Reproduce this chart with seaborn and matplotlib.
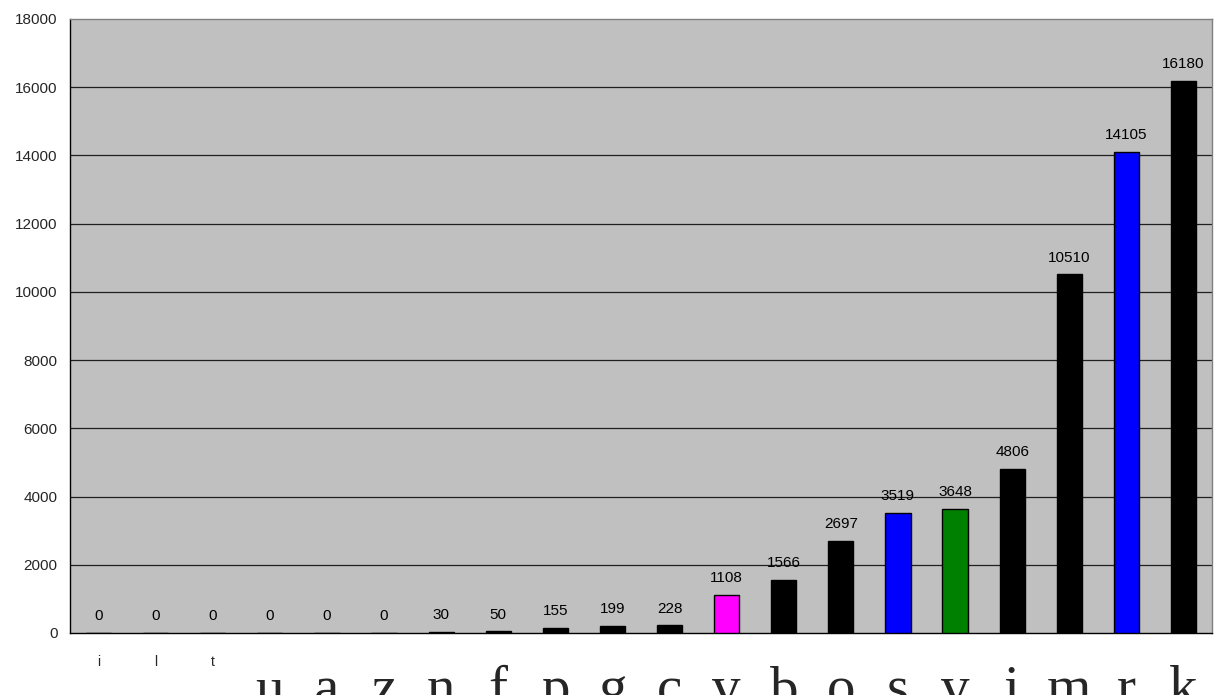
import matplotlib
matplotlib.use("Agg")
import matplotlib.pyplot as plt
import seaborn as sns
import pandas as pd

labels = ["i", "l", "t", "u", "a", "z", "n", "f", "p", "g", "c", "v", "b", "o", "s", "v", "i", "m", "r", "k"]
values = [0, 0, 0, 0, 0, 0, 30, 50, 155, 199, 228, 1108, 1566, 2697, 3519, 3648, 4806, 10510, 14105, 16180]
colors = ["#000000"] * 11 + ["#FF00FF", "#000000", "#000000", "#0000FF", "#008000",
                              "#000000", "#000000", "#0000FF", "#000000"]
yticks = list(range(0, 18001, 2000))

sns.set_theme(style="white")
plt.rcParams["font.family"] = ["Liberation Sans", "DejaVu Sans"]

df = pd.DataFrame({"pos": list(range(len(values))), "value": values})
pal = {i: c for i, c in enumerate(colors)}

fig = plt.figure(figsize=(12.2, 6.95), dpi=100)
ax = fig.add_axes([70 / 1220, 1 - 633 / 695, (1212 - 70) / 1220, (633 - 19) / 695])
ax.set_facecolor("#C0C0C0")

sns.barplot(data=df, x="pos", y="value", hue="pos", palette=pal, legend=False,
            saturation=1, width=0.44, edgecolor="black", linewidth=1.0, ax=ax, zorder=3)

ax.set_ylim(0, 18000)
ax.set_xlim(-0.5, len(values) - 0.5)
ax.set_yticks(yticks)
ax.set_yticklabels([str(t) for t in yticks], fontsize=11)
for t in yticks[1:-1]:
    ax.axhline(t, color="#202020", linewidth=0.9, zorder=1)

for i, v in enumerate(values):
    ax.annotate(str(v), (i, v), xytext=(0, 7), textcoords="offset points",
                ha="center", va="bottom", fontsize=11, color="black")

ax.set_xticks(range(len(values)))
ax.set_xticklabels(labels)
ax.tick_params(axis="x", length=0, pad=16)
for i, lbl in enumerate(ax.get_xticklabels()):
    if i < 3:
        lbl.set_fontsize(10)
        lbl.set_family(["Liberation Sans", "DejaVu Sans"])
    else:
        lbl.set_fontsize(41)
        lbl.set_family(["Liberation Serif", "DejaVu Serif"])
        lbl.set_y(-0.016)

# boundary tick marks between categories
ax.set_xticks([i - 0.5 for i in range(len(values) + 1)], minor=True)
ax.tick_params(axis="x", which="minor", length=6, width=0.9, color="black", direction="out")
ax.tick_params(axis="y", length=5, width=0.9, color="black", direction="out", pad=4)

ax.set_xlabel("")
ax.set_ylabel("")
for side in ["top", "right"]:
    ax.spines[side].set_color("#808080")
    ax.spines[side].set_linewidth(1.0)
for side in ["left", "bottom"]:
    ax.spines[side].set_color("black")
    ax.spines[side].set_linewidth(1.0)
for side in ["top", "right", "left", "bottom"]:
    ax.spines[side].set_visible(True)

fig.savefig("out.png", dpi=100, facecolor="white")
